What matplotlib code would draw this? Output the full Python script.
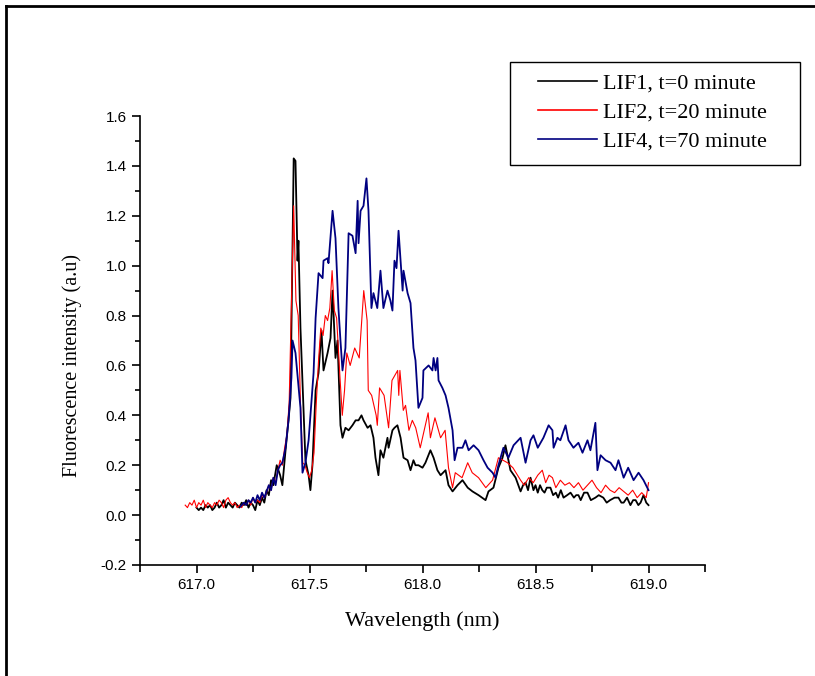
import matplotlib
matplotlib.use("Agg")
import matplotlib.pyplot as plt
from matplotlib.lines import Line2D
from matplotlib.patches import Rectangle
from matplotlib.ticker import MultipleLocator

# LIF1, t=0 minute (black)
wl_lif1 = [617.00, 617.01, 617.02, 617.03, 617.04, 617.05, 617.06, 617.07, 617.08, 617.09,
           617.10, 617.11, 617.12, 617.13, 617.14, 617.15, 617.16, 617.17, 617.18, 617.19,
           617.20, 617.21, 617.22, 617.23, 617.24, 617.25, 617.26, 617.27, 617.28, 617.29,
           617.30, 617.31, 617.32, 617.33, 617.34, 617.355, 617.37, 617.38, 617.394, 617.407,
           617.416, 617.425, 617.43, 617.438, 617.447, 617.451, 617.46, 617.473, 617.482, 617.496,
           617.504, 617.513, 617.527, 617.54, 617.553, 617.562, 617.58, 617.593, 617.602, 617.615,
           617.624, 617.637, 617.646, 617.659, 617.673, 617.69, 617.704, 617.717, 617.73, 617.739,
           617.757, 617.77, 617.783, 617.792, 617.805, 617.814, 617.827, 617.845, 617.85, 617.867,
           617.876, 617.889, 617.903, 617.916, 617.934, 617.947, 617.96, 617.969, 617.982, 618.0,
           618.013, 618.035, 618.049, 618.066, 618.08, 618.102, 618.115, 618.133, 618.155, 618.177,
           618.2, 618.221, 618.248, 618.279, 618.292, 618.314, 618.336, 618.354, 618.367, 618.389,
           618.412, 618.434, 618.445, 618.456, 618.467, 618.478, 618.491, 618.50, 618.51, 618.52,
           618.53, 618.54, 618.55, 618.566, 618.578, 618.59, 618.60, 618.612, 618.624, 618.64,
           618.655, 618.67, 618.68, 618.69, 618.70, 618.715, 618.73, 618.745, 618.765, 618.78,
           618.80, 618.815, 618.83, 618.85, 618.867, 618.88, 618.89, 618.905, 618.92, 618.932,
           618.943, 618.955, 618.965, 618.978, 618.99, 619.00]
int_lif1 = [0.03, 0.02, 0.03, 0.02, 0.04, 0.03, 0.04, 0.02, 0.03, 0.05,
            0.03, 0.04, 0.06, 0.03, 0.05, 0.04, 0.03, 0.05, 0.04, 0.03,
            0.05, 0.04, 0.06, 0.03, 0.05, 0.04, 0.02, 0.06, 0.04, 0.07,
            0.05, 0.10, 0.08, 0.14, 0.12, 0.20, 0.16, 0.12, 0.26, 0.38,
            0.47, 1.10, 1.43, 1.42, 1.02, 1.10, 0.75, 0.43, 0.22, 0.16,
            0.10, 0.20, 0.50, 0.57, 0.74, 0.58, 0.65, 0.71, 0.90, 0.63,
            0.70, 0.36, 0.31, 0.35, 0.34, 0.36, 0.38, 0.38, 0.40, 0.38,
            0.35, 0.36, 0.31, 0.23, 0.16, 0.26, 0.23, 0.31, 0.27, 0.34,
            0.35, 0.36, 0.31, 0.23, 0.22, 0.18, 0.22, 0.20, 0.20, 0.19,
            0.21, 0.26, 0.23, 0.18, 0.16, 0.18, 0.12, 0.095, 0.12, 0.14,
            0.11, 0.095, 0.08, 0.06, 0.095, 0.11, 0.19, 0.23, 0.28, 0.18,
            0.15, 0.095, 0.12, 0.13, 0.10, 0.15, 0.10, 0.12, 0.09, 0.12,
            0.10, 0.09, 0.11, 0.11, 0.08, 0.09, 0.07, 0.10, 0.07, 0.08,
            0.09, 0.07, 0.08, 0.08, 0.06, 0.09, 0.09, 0.06, 0.07, 0.08,
            0.07, 0.05, 0.06, 0.07, 0.07, 0.05, 0.05, 0.07, 0.04, 0.06,
            0.06, 0.04, 0.05, 0.08, 0.05, 0.04]

# LIF2, t=20 minute (red)
wl_lif2 = [616.95, 616.96, 616.97, 616.98, 616.99, 617.00, 617.01, 617.02, 617.03, 617.04,
           617.05, 617.06, 617.07, 617.08, 617.09, 617.10, 617.11, 617.12, 617.13, 617.14,
           617.15, 617.16, 617.17, 617.18, 617.19, 617.20, 617.21, 617.22, 617.23, 617.24,
           617.25, 617.26, 617.27, 617.28, 617.29, 617.30, 617.31, 617.32, 617.33, 617.34,
           617.35, 617.36, 617.37, 617.38, 617.39, 617.40, 617.41, 617.42, 617.43, 617.44,
           617.45, 617.46, 617.47, 617.48, 617.49, 617.50, 617.51, 617.52, 617.53, 617.54,
           617.55, 617.56, 617.57, 617.58, 617.59, 617.60, 617.61, 617.62, 617.635, 617.645,
           617.655, 617.665, 617.68, 617.70, 617.72, 617.74, 617.755, 617.76, 617.775, 617.795,
           617.80, 617.81, 617.83, 617.85, 617.865, 617.89, 617.895, 617.90, 617.915, 617.925,
           617.94, 617.955, 617.97, 617.99, 618.01, 618.025, 618.035, 618.055, 618.08, 618.10,
           618.115, 618.133, 618.145, 618.175, 618.20, 618.22, 618.248, 618.28, 618.31, 618.336,
           618.376, 618.40, 618.434, 618.45, 618.47, 618.49, 618.51, 618.53, 618.545, 618.56,
           618.575, 618.59, 618.61, 618.63, 618.65, 618.67, 618.69, 618.71, 618.73, 618.75,
           618.77, 618.79, 618.81, 618.83, 618.85, 618.87, 618.89, 618.91, 618.93, 618.95,
           618.97, 618.99, 619.00]
int_lif2 = [0.04, 0.03, 0.05, 0.04, 0.06, 0.03, 0.05, 0.04, 0.06, 0.03,
            0.05, 0.04, 0.03, 0.05, 0.04, 0.06, 0.05, 0.03, 0.06, 0.07,
            0.05, 0.04, 0.05, 0.03, 0.04, 0.03, 0.05, 0.04, 0.06, 0.04,
            0.07, 0.05, 0.06, 0.05, 0.08, 0.07, 0.09, 0.12, 0.10, 0.15,
            0.13, 0.18, 0.22, 0.20, 0.27, 0.32, 0.45, 0.85, 1.24, 0.86,
            0.80, 0.45, 0.21, 0.20, 0.17, 0.15, 0.18, 0.25, 0.45, 0.62,
            0.75, 0.72, 0.80, 0.78, 0.83, 0.98, 0.82, 0.79, 0.55, 0.40,
            0.50, 0.65, 0.60, 0.67, 0.63, 0.90, 0.78, 0.50, 0.48, 0.40,
            0.36, 0.51, 0.48, 0.35, 0.54, 0.58, 0.48, 0.58, 0.42, 0.44,
            0.34, 0.38, 0.35, 0.27, 0.35, 0.41, 0.31, 0.39, 0.31, 0.34,
            0.19, 0.11, 0.17, 0.15, 0.21, 0.17, 0.15, 0.11, 0.14, 0.23,
            0.21, 0.19, 0.14, 0.12, 0.15, 0.13, 0.16, 0.18, 0.13, 0.16,
            0.15, 0.11, 0.14, 0.12, 0.13, 0.11, 0.13, 0.10, 0.12, 0.14,
            0.11, 0.09, 0.12, 0.10, 0.09, 0.11, 0.095, 0.08, 0.10, 0.07,
            0.09, 0.07, 0.13]

# LIF4, t=70 minute (navy)
wl_lif4 = [617.195, 617.21, 617.22, 617.23, 617.24, 617.25, 617.26, 617.27, 617.28, 617.29,
           617.30, 617.31, 617.32, 617.33, 617.34, 617.35, 617.36, 617.37, 617.38, 617.394,
           617.407, 617.42, 617.425, 617.438, 617.46, 617.469, 617.482, 617.496, 617.518, 617.527,
           617.54, 617.558, 617.562, 617.58, 617.584, 617.602, 617.615, 617.628, 617.637, 617.646,
           617.659, 617.673, 617.69, 617.704, 617.713, 617.717, 617.726, 617.739, 617.752, 617.761,
           617.774, 617.783, 617.80, 617.814, 617.827, 617.845, 617.858, 617.867, 617.876, 617.885,
           617.894, 617.912, 617.916, 617.934, 617.947, 617.96, 617.969, 617.982, 618.0, 618.004,
           618.027, 618.044, 618.049, 618.058, 618.066, 618.071, 618.088, 618.102, 618.115, 618.133,
           618.142, 618.155, 618.177, 618.19, 618.204, 618.226, 618.248, 618.27, 618.288, 618.31,
           618.323, 618.336, 618.358, 618.38, 618.403, 618.434, 618.456, 618.478, 618.491, 618.51,
           618.535, 618.558, 618.575, 618.58, 618.597, 618.61, 618.633, 618.646, 618.668, 618.69,
           618.708, 618.73, 618.743, 618.765, 618.774, 618.788, 618.81, 618.832, 618.854, 618.867,
           618.89, 618.91, 618.934, 618.956, 618.978, 619.00]
int_lif4 = [0.035, 0.05, 0.04, 0.06, 0.05, 0.07, 0.05, 0.08, 0.06, 0.09,
            0.07, 0.095, 0.12, 0.10, 0.15, 0.12, 0.18, 0.20, 0.21, 0.27,
            0.38, 0.55, 0.70, 0.65, 0.43, 0.17, 0.21, 0.30, 0.57, 0.79,
            0.97, 0.95, 1.02, 1.03, 1.01, 1.22, 1.11, 0.83, 0.70, 0.58,
            0.67, 1.13, 1.12, 1.05, 1.26, 1.09, 1.22, 1.24, 1.35, 1.22,
            0.83, 0.89, 0.83, 0.98, 0.83, 0.90, 0.86, 0.82, 1.02, 0.99,
            1.14, 0.90, 0.98, 0.89, 0.85, 0.67, 0.62, 0.43, 0.47, 0.58,
            0.60, 0.58, 0.63, 0.58, 0.63, 0.54, 0.51, 0.48, 0.43, 0.34,
            0.22, 0.27, 0.27, 0.30, 0.26, 0.28, 0.26, 0.22, 0.19, 0.17,
            0.15, 0.20, 0.27, 0.23, 0.28, 0.31, 0.21, 0.30, 0.32, 0.27,
            0.31, 0.36, 0.34, 0.27, 0.31, 0.30, 0.36, 0.30, 0.27, 0.29,
            0.25, 0.30, 0.26, 0.37, 0.18, 0.24, 0.22, 0.21, 0.18, 0.22,
            0.15, 0.19, 0.14, 0.17, 0.14, 0.10]

labels = ["LIF1, t=0 minute", "LIF2, t=20 minute", "LIF4, t=70 minute"]

serif = ["Liberation Serif", "DejaVu Serif"]
sans = ["Liberation Sans", "DejaVu Sans"]

W, H = 815, 676
fig = plt.figure(figsize=(W / 100, H / 100), dpi=100)
ax = fig.add_axes([140 / W, 1 - 565 / H, 565 / W, 449 / H])

ax.plot(wl_lif1, int_lif1, color="black", lw=1.3, label=labels[0])
ax.plot(wl_lif2, int_lif2, color="red", lw=0.8, label=labels[1])
ax.plot(wl_lif4, int_lif4, color="#000080", lw=1.3, label=labels[2])

ax.set_xlim(616.75, 619.25)
ax.set_ylim(-0.2, 1.6)
ax.xaxis.set_major_locator(MultipleLocator(0.5))
ax.xaxis.set_minor_locator(MultipleLocator(0.25))
ax.yaxis.set_major_locator(MultipleLocator(0.2))
ax.yaxis.set_minor_locator(MultipleLocator(0.1))
ax.set_xticks([617.0, 617.5, 618.0, 618.5, 619.0])
ax.set_xticklabels(["617.0", "617.5", "618.0", "618.5", "619.0"])
ax.set_yticks([-0.2, 0.0, 0.2, 0.4, 0.6, 0.8, 1.0, 1.2, 1.4, 1.6])
ax.set_yticklabels(["-0.2", "0.0", "0.2", "0.4", "0.6", "0.8", "1.0", "1.2", "1.4", "1.6"])

for s in ["top", "right"]:
    ax.spines[s].set_visible(False)
for s in ["left", "bottom"]:
    ax.spines[s].set_linewidth(1.2)

ax.tick_params(which="major", direction="out", length=6, width=1.2)
ax.tick_params(which="minor", direction="out", length=3.5, width=1.2)
ax.tick_params(axis="x", which="minor", length=5)
for lab in ax.get_xticklabels() + ax.get_yticklabels():
    lab.set_family(sans)
    lab.set_fontsize(11)

ax.set_xlabel("Wavelength (nm)", family=serif, fontsize=16, labelpad=14)
ax.set_ylabel("Fluorescence intensity (a.u)", family=serif, fontsize=14.5, labelpad=10)
ax.yaxis.set_label_coords(-0.102, 0.445)

# legend: entries without frame, box drawn separately
leg = ax.legend(loc="upper left", bbox_to_anchor=(538 / W, 1 - 73 / H),
                bbox_transform=fig.transFigure, frameon=False,
                prop={"family": serif, "size": 16}, handlelength=2.65,
                handletextpad=0.27, labelspacing=0.38, borderpad=0, borderaxespad=0)
for h in leg.get_lines():
    h.set_linewidth(1.2)
fig.add_artist(Rectangle((510 / W, 1 - 165 / H), 290 / W, 103 / H, transform=fig.transFigure,
                         fill=False, edgecolor="black", lw=1.0))

# outer frame (top and left edges)
fig.add_artist(Line2D([6 / W, 6 / W], [0, 1 - 6 / H], transform=fig.transFigure, color="black", lw=2))
fig.add_artist(Line2D([6 / W, 1], [1 - 6 / H, 1 - 6 / H], transform=fig.transFigure, color="black", lw=2))

fig.savefig("out.png", dpi=100)
